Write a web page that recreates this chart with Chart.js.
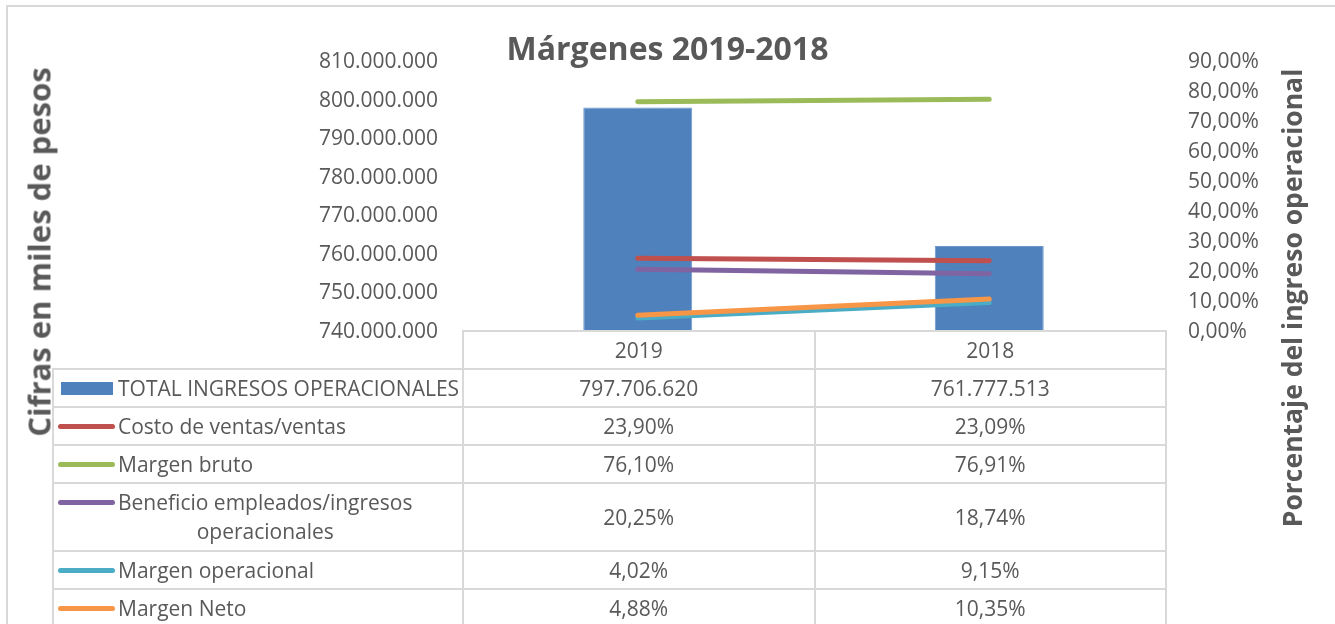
<!DOCTYPE html>
<html>
<head>
<meta charset="utf-8">
<script src="https://cdn.jsdelivr.net/npm/chart.js@4.4.1/dist/chart.umd.min.js"></script>
<style>
  html,body{margin:0;padding:0;background:#fff;}
  #wrap{position:relative;width:1335px;height:624px;overflow:hidden;}
  #c{position:absolute;left:0;top:0;}
  #frame{position:absolute;left:6px;top:5px;width:1400px;height:700px;border:2px solid #D9D9D9;pointer-events:none;}
  .vtitle{position:absolute;font-family:"Open Sans";font-weight:bold;color:#595959;white-space:nowrap;
    line-height:1;transform:translate(-50%,-50%) rotate(-90deg);}
  #dataTable{position:absolute;border-collapse:collapse;table-layout:fixed;
    font-family:"Open Sans";font-size:21px;color:#595959;}
  #dataTable td{border:2px solid #D9D9D9;padding:0;text-align:center;line-height:29px;white-space:nowrap;}
  #dataTable td.blank{border-top:none;border-left:none;}
  #dataTable td.lab{text-align:left;}
  .row{display:flex;align-items:flex-start;padding-left:4px;}
  .key{width:57px;height:29px;display:flex;align-items:center;justify-content:center;flex:none;}
  .txt{display:inline-block;text-align:center;margin-left:3px;}
</style>
</head>
<body>
<div id="wrap">
  <canvas id="c" width="1335" height="624"></canvas>
  <table id="dataTable"></table>
  <div id="titleLeft" class="vtitle" style="left:39px;top:252px;font-size:31px;"></div>
  <div id="titleRight" class="vtitle" style="left:1292px;top:298px;font-size:26.5px;"></div>
  <div id="frame"></div>
</div>
<script>
const years = ["2019", "2018"];
const ingresos = [797706620, 761777513];
const costoVentas = [23.90, 23.09];
const margenBruto = [76.10, 76.91];
const beneficioEmpleados = [20.25, 18.74];
const margenOperacional = [4.02, 9.15];
const margenNeto = [4.88, 10.35];

const leftTicks = { min: 740000000, max: 810000000, step: 10000000 };
const rightTicks = { min: 0, max: 90, step: 10 };

const chartTitle = "Márgenes 2019-2018";
const leftTitle = "Cifras en miles de pesos";
const rightTitle = "Porcentaje del ingreso operacional";

const TXT = "#595959";
const FONT = "Open Sans";

function miles(v){
  return String(Math.round(v)).replace(/\B(?=(\d{3})+(?!\d))/g, ".");
}
function pct(v){
  return Number(v).toFixed(2).replace(".", ",") + "%";
}

function lineSet(label, data, color, order){
  return {
    type:"line", label, data, yAxisID:"y1", order,
    borderColor:color, backgroundColor:color, borderWidth:5,
    borderCapStyle:"round", pointRadius:0, fill:false, tension:0
  };
}

const datasets = [
  { type:"bar", label:"TOTAL INGRESOS OPERACIONALES", data:ingresos, yAxisID:"y", order:10,
    backgroundColor:"#4F81BD", borderColor:"#6E98CB", borderWidth:1,
    categoryPercentage:1, barPercentage:0.31, fmt:miles },
  lineSet("Costo de ventas/ventas", costoVentas, "#C0504D", 5),
  lineSet("Margen bruto", margenBruto, "#9BBB59", 4),
  lineSet("Beneficio empleados/ingresos operacionales", beneficioEmpleados, "#8064A2", 3),
  lineSet("Margen operacional", margenOperacional, "#4BACC6", 2),
  lineSet("Margen Neto", margenNeto, "#F79646", 1)
];

const chart = new Chart(document.getElementById("c"), {
  type:"bar",
  data:{ labels: years, datasets },
  options:{
    responsive:false,
    animation:false,
    layout:{ padding:0 },
    plugins:{
      legend:{ display:false },
      tooltip:{ enabled:false },
      title:{
        display:true, text:chartTitle, color:TXT,
        font:{ family:FONT, size:32, weight:"bold", lineHeight:1 },
        padding:{ top:35, bottom:-7 }
      }
    },
    scales:{
      x:{
        grid:{ display:false }, border:{ display:false }, ticks:{ display:false },
        afterFit(s){ s.height = 294; }
      },
      y:{
        position:"left", min:leftTicks.min, max:leftTicks.max,
        grid:{ display:false, drawTicks:false }, border:{ display:false },
        ticks:{ stepSize:leftTicks.step, padding:24, labelOffset:2, color:TXT, font:{ family:FONT, size:21 },
          callback:(v)=> miles(v) },
        afterFit(s){ s.width = 462; }
      },
      y1:{
        position:"right", min:rightTicks.min, max:rightTicks.max,
        grid:{ display:false, drawTicks:false }, border:{ display:false },
        ticks:{ stepSize:rightTicks.step, padding:23, labelOffset:2, color:TXT, font:{ family:FONT, size:21 },
          callback:(v)=> pct(v) },
        afterFit(s){ s.width = 170; }
      }
    }
  }
});

document.getElementById("titleLeft").textContent = leftTitle;
document.getElementById("titleRight").textContent = rightTitle;

// parte el texto de la leyenda en lineas, como hace Excel en la tabla
function wrapLabel(text, maxW){
  const ctx = document.createElement("canvas").getContext("2d");
  ctx.font = `21px "${FONT}"`;
  const words = text.split(" ");
  const lines = [];
  let cur = "";
  for(const w of words){
    const test = cur ? cur + " " + w : w;
    if(cur && ctx.measureText(test).width > maxW){
      lines.push(cur);
      cur = w;
    } else cur = test;
  }
  if(cur) lines.push(cur);
  return lines;
}

function keyHtml(ds){
  if(ds.type === "bar"){
    return `<span style="display:block;width:52px;height:13px;background:${ds.backgroundColor}"></span>`;
  }
  return `<span style="display:block;width:57px;height:5px;border-radius:3px;background:${ds.borderColor}"></span>`;
}

function buildTable(){
  const xs = chart.scales.x;
  const area = chart.chartArea;
  const colW = xs.getPixelForValue(1) - xs.getPixelForValue(0);
  const legendW = 410;
  const tbl = document.getElementById("dataTable");
  tbl.style.left = (area.left - legendW) + "px";
  tbl.style.top = (area.bottom) + "px";

  let html = `<colgroup><col style="width:${legendW}px">${years.map(()=>`<col style="width:${colW}px">`).join("")}</colgroup>`;
  html += `<tr style="height:38px"><td class="blank"></td>${years.map(y=>`<td>${y}</td>`).join("")}</tr>`;
  for(const ds of chart.data.datasets){
    const fmt = ds.fmt || pct;
    const lines = wrapLabel(ds.label, 342);
    html += `<tr style="height:${lines.length > 1 ? 68 : 38}px">
      <td class="lab"><div class="row"><span class="key">${keyHtml(ds)}</span><span class="txt">${lines.join("<br>")}</span></div></td>
      ${ds.data.map(v=>`<td>${fmt(v)}</td>`).join("")}
    </tr>`;
  }
  tbl.innerHTML = html;
}
buildTable();
</script>
</body>
</html>
